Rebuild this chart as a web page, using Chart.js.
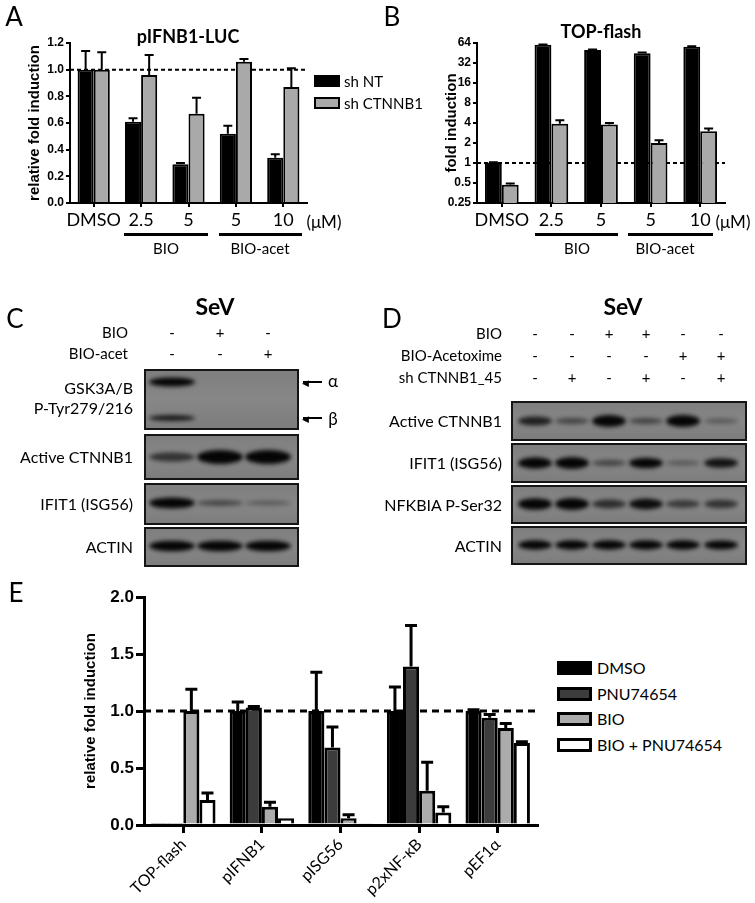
<!DOCTYPE html>
<html>
<head>
<meta charset="utf-8">
<script src="https://cdn.jsdelivr.net/npm/chart.js@4.4.1/dist/chart.umd.min.js"></script>
<style>
  body { margin: 0; background: #fff; }
  #fig { position: relative; width: 755px; height: 903px; overflow: hidden; font-family: Lato, "Open Sans", sans-serif; color: #000; }
  .t { position: absolute; white-space: nowrap; line-height: 1; }
  .box { position: absolute; box-sizing: border-box; border: 2px solid #000; }
  .bar { position: absolute; background: #000; }
  canvas { position: absolute; }
</style>
</head>
<body>
<div id="fig">
  <canvas id="chartA" width="330" height="265" style="left:0;top:0"></canvas>
  <canvas id="chartB" width="375" height="265" style="left:380px;top:0"></canvas>
  <canvas id="blots" width="755" height="290" style="left:0;top:290px"></canvas>
  <canvas id="chartE" width="545" height="343" style="left:0;top:560px"></canvas>
</div>
<script>
// ---- data: panel A (pIFNB1-LUC) ----
const doseLabels = ['DMSO', '2.5', '5', '5', '10'];
const ifnbNT = [1.0, 0.61, 0.29, 0.52, 0.34];
const ifnbNTErr = [1.14, 0.635, 0.30, 0.58, 0.365];
const ifnbSh = [1.0, 0.96, 0.67, 1.06, 0.87];
const ifnbShErr = [1.13, 1.11, 0.79, 1.08, 1.01];
const ifnbTicks = [0, 0.2, 0.4, 0.6, 0.8, 1.0, 1.2];

// ---- data: panel B (TOP-flash) ----
const topNT = [1.0, 60, 50, 45, 56];
const topNTErr = [1.03, 61, 51, 46, 57];
const topSh = [0.47, 3.9, 3.8, 2.0, 3.0];
const topShErr = [0.49, 4.4, 4.0, 2.2, 3.3];
const topTicks = [0.25, 0.5, 1, 2, 4, 8, 16, 32, 64];

// ---- data: panel E ----
const reporters = ['TOP-flash', 'pIFNB1', 'pISG56', 'p2xNF-κB', 'pEF1α'];
const eDMSO = [0.005, 1.0, 1.0, 1.0, 1.0];
const eDMSOErr = [null, 1.08, 1.34, 1.21, 1.01];
const ePNU = [0.005, 1.03, 0.68, 1.39, 0.94];
const ePNUErr = [null, 1.04, 0.86, 1.75, 0.97];
const eBIO = [1.0, 0.16, 0.06, 0.30, 0.85];
const eBIOErr = [1.19, 0.20, 0.09, 0.55, 0.89];
const eCombo = [0.22, 0.06, 0.015, 0.11, 0.72];
const eComboErr = [0.28, null, null, 0.16, 0.73];
const eTicks = [0, 0.5, 1.0, 1.5, 2.0];

// ---- blot band intensities (0..1 per lane) ----
const blotC = [
  { label: ['GSK3A/B', 'P-Tyr279/216'], top: 370, bottom: 429, bands: [
      { y: 382, h: 9, lanes: [1.0, 0.04, 0.04] },
      { y: 418, h: 7, lanes: [0.7, 0.04, 0.04] } ] },
  { label: ['Active CTNNB1'], top: 435, bottom: 479, bands: [{ y: 457, h: 14, lanes: [0.45, 1.0, 1.0] }] },
  { label: ['IFIT1 (ISG56)'], top: 484, bottom: 524, bands: [{ y: 503, h: 11, lanes: [1.0, 0.3, 0.15] }] },
  { label: ['ACTIN'], top: 528, bottom: 566, bands: [{ y: 546, h: 11, lanes: [0.95, 0.95, 0.95] }] }
];
const blotD = [
  { label: ['Active CTNNB1'], top: 402, bottom: 440, bands: [{ y: 421, h: 12, lanes: [0.6, 0.3, 1.0, 0.3, 1.0, 0.15] }] },
  { label: ['IFIT1 (ISG56)'], top: 444, bottom: 482, bands: [{ y: 463, h: 12, lanes: [0.95, 1.0, 0.3, 0.8, 0.15, 0.7] }] },
  { label: ['NFKBIA P-Ser32'], top: 486, bottom: 523, bands: [{ y: 504, h: 13, lanes: [0.85, 0.9, 0.5, 0.75, 0.4, 0.45] }] },
  { label: ['ACTIN'], top: 527, bottom: 564, bands: [{ y: 545, h: 10, lanes: [0.9, 0.9, 0.9, 0.9, 0.9, 0.85] }] }
];

const fig = document.getElementById('fig');
const tickFont = 'Liberation Sans';

function text(s, x, y, size, opts = {}) {
  const d = document.createElement('div');
  d.className = 't';
  d.textContent = s;
  d.style.left = x + 'px';
  d.style.top = y + 'px';
  d.style.fontSize = size + 'px';
  if (opts.bold) d.style.fontWeight = 'bold';
  const tx = opts.align === 'right' ? '-100%' : opts.align === 'left' ? '0' : '-50%';
  d.style.transform = `translate(${tx}, -50%)`;
  fig.appendChild(d);
}
function hline(x1, x2, y, w) {
  const d = document.createElement('div');
  d.className = 'bar';
  d.style.left = x1 + 'px'; d.style.top = (y - w / 2) + 'px';
  d.style.width = (x2 - x1) + 'px'; d.style.height = w + 'px';
  fig.appendChild(d);
}
function swatch(x, y, w, h, fill, bw) {
  const d = document.createElement('div');
  d.className = 'box';
  Object.assign(d.style, { left: x + 'px', top: (y - h / 2) + 'px', width: w + 'px', height: h + 'px', background: fill, borderWidth: bw + 'px' });
  fig.appendChild(d);
}

// error bars (upper whisker only), drawn with the chart's own scales
function errorBars(lineWidth, capW) {
  return {
    id: 'errorBars',
    afterDatasetsDraw(chart) {
      const ctx = chart.ctx, yScale = chart.scales.y;
      ctx.save();
      ctx.strokeStyle = '#000';
      ctx.lineWidth = lineWidth;
      chart.data.datasets.forEach((ds, i) => {
        if (!ds.errHi) return;
        chart.getDatasetMeta(i).data.forEach((bar, j) => {
          const e = ds.errHi[j];
          if (e == null) return;
          const ye = yScale.getPixelForValue(e);
          ctx.beginPath();
          ctx.moveTo(bar.x, bar.y);
          ctx.lineTo(bar.x, ye);
          ctx.moveTo(bar.x - capW / 2, ye);
          ctx.lineTo(bar.x + capW / 2, ye);
          ctx.stroke();
        });
      });
      ctx.restore();
    }
  };
}
// dashed reference line at y = 1
function refLine(lineWidth, dash) {
  return {
    id: 'refLine',
    beforeDatasetsDraw(chart) {
      const ctx = chart.ctx, a = chart.chartArea;
      const y = chart.scales.y.getPixelForValue(1);
      ctx.save();
      ctx.strokeStyle = '#000';
      ctx.lineWidth = lineWidth;
      ctx.setLineDash(dash);
      ctx.beginPath();
      ctx.moveTo(a.left, y);
      ctx.lineTo(a.right, y);
      ctx.stroke();
      ctx.restore();
    }
  };
}

function axisX(tickLen, lw, height, font, rotation) {
  return {
    offset: true,
    grid: { offset: false, drawOnChartArea: false, drawTicks: true, tickLength: tickLen, color: '#000', lineWidth: lw },
    border: { display: true, color: '#000', width: lw },
    ticks: { font: font, color: '#000', padding: 2, autoSkip: false, minRotation: rotation, maxRotation: rotation },
    afterFit: s => { s.height = height; }
  };
}
function axisY(tickVals, tickLen, lw, width, tickSize, title, titlePad, fmt) {
  return {
    afterBuildTicks: s => { s.ticks = tickVals.map(v => ({ value: v })); },
    grid: { drawOnChartArea: false, drawTicks: true, tickLength: tickLen, color: '#000', lineWidth: lw },
    border: { display: true, color: '#000', width: lw },
    ticks: { font: { family: tickFont, weight: 'bold', size: tickSize }, color: '#000', padding: 2, callback: fmt },
    title: { display: true, text: title, color: '#000', font: { family: tickFont, weight: 'bold', size: 15 }, padding: { top: titlePad, bottom: 0 } },
    afterFit: s => { s.width = width; }
  };
}
const common = {
  responsive: false, animation: false, events: [],
  plugins: { legend: { display: false }, tooltip: { enabled: false } }
};

// ---- Panel A ----
new Chart(document.getElementById('chartA'), {
  type: 'bar',
  data: {
    labels: doseLabels,
    datasets: [
      { label: 'sh NT', data: ifnbNT, errHi: ifnbNTErr, backgroundColor: '#000', borderColor: '#000', borderWidth: 2 },
      { label: 'sh CTNNB1', data: ifnbSh, errHi: ifnbShErr, backgroundColor: '#a9a9a9', borderColor: '#000', borderWidth: 2 }
    ]
  },
  options: Object.assign({}, common, {
    layout: { padding: { top: 43, right: 23, left: 0, bottom: 0 } },
    datasets: { bar: { categoryPercentage: 0.68, barPercentage: 1.0 } },
    scales: {
      x: axisX(4, 2, 62, { family: 'Lato', size: 18 }, 0),
      y: Object.assign(axisY(ifnbTicks, 4, 2, 70, 12, 'relative fold induction', 26, v => v.toFixed(1)), { min: 0, max: 1.2 })
    }
  }),
  plugins: [refLine(2, [4, 3]), errorBars(2, 9)]
});

// ---- Panel B ----
new Chart(document.getElementById('chartB'), {
  type: 'bar',
  data: {
    labels: doseLabels,
    datasets: [
      { label: 'sh NT', data: topNT, errHi: topNTErr, backgroundColor: '#000', borderColor: '#000', borderWidth: 2 },
      { label: 'sh CTNNB1', data: topSh, errHi: topShErr, backgroundColor: '#a9a9a9', borderColor: '#000', borderWidth: 2 }
    ]
  },
  options: Object.assign({}, common, {
    layout: { padding: { top: 43, right: 30, left: 0, bottom: 0 } },
    datasets: { bar: { categoryPercentage: 0.68, barPercentage: 1.0 } },
    scales: {
      x: axisX(4, 2, 62, { family: 'Lato', size: 18 }, 0),
      y: Object.assign(axisY(topTicks, 4, 2, 97, 12, 'fold induction', 63, v => String(v)), { type: 'logarithmic', min: 0.25, max: 64 })
    }
  }),
  plugins: [refLine(2, [4, 3]), errorBars(2, 9)]
});

// ---- Panel E ----
new Chart(document.getElementById('chartE'), {
  type: 'bar',
  data: {
    labels: reporters,
    datasets: [
      { label: 'DMSO', data: eDMSO, errHi: eDMSOErr, backgroundColor: '#000', borderColor: '#000', borderWidth: 3 },
      { label: 'PNU74654', data: ePNU, errHi: ePNUErr, backgroundColor: '#3c3c3c', borderColor: '#000', borderWidth: 3 },
      { label: 'BIO', data: eBIO, errHi: eBIOErr, backgroundColor: '#ababab', borderColor: '#000', borderWidth: 3 },
      { label: 'BIO + PNU74654', data: eCombo, errHi: eComboErr, backgroundColor: '#fff', borderColor: '#000', borderWidth: 3 }
    ]
  },
  options: Object.assign({}, common, {
    layout: { padding: { top: 37, right: 8, left: 0, bottom: 0 } },
    datasets: { bar: { categoryPercentage: 0.82, barPercentage: 1.0 } },
    scales: {
      x: axisX(8, 3, 78, { family: 'Lato', size: 16 }, 45),
      y: Object.assign(axisY(eTicks, 8, 3, 144, 17, 'relative fold induction', 82, v => v.toFixed(1)), { min: 0, max: 2.0 })
    }
  }),
  plugins: [refLine(3, [7, 5]), errorBars(3, 12)]
});

// ---- western blots (panels C, D) ----
const bctx = document.getElementById('blots').getContext('2d');
const OY = 290;
function drawBlot(rows, x1, x2, lanes, laneW, labelRight) {
  rows.forEach(r => {
    const t = r.top - OY, b = r.bottom - OY;
    const g = bctx.createLinearGradient(0, t, 0, b);
    g.addColorStop(0, '#7e7e7e'); g.addColorStop(0.5, '#878787'); g.addColorStop(1, '#7c7c7c');
    bctx.fillStyle = g;
    bctx.fillRect(x1, t, x2 - x1, b - t);
    bctx.save();
    bctx.beginPath(); bctx.rect(x1, t, x2 - x1, b - t); bctx.clip();
    bctx.filter = 'blur(2px)';
    r.bands.forEach(band => {
      band.lanes.forEach((v, i) => {
        if (v < 0.05) return;
        bctx.fillStyle = `rgba(5,5,5,${Math.min(1, 0.2 + v)})`;
        bctx.beginPath();
        bctx.ellipse(lanes[i], band.y - OY, laneW / 2, band.h * (0.35 + 0.65 * v) / 2, 0, 0, Math.PI * 2);
        bctx.fill();
      });
    });
    bctx.restore();
    bctx.strokeStyle = '#151515';
    bctx.lineWidth = 2;
    bctx.strokeRect(x1, t, x2 - x1, b - t);
    const mid = (r.top + r.bottom) / 2;
    if (r.label.length === 2) {
      text(r.label[0], labelRight, 388, 16, { align: 'right' });
      text(r.label[1], labelRight, 408, 16, { align: 'right' });
    } else {
      text(r.label[0], labelRight, mid, 16, { align: 'right' });
    }
  });
}
const lanesC = [172, 220, 268];
const lanesD = [535, 572, 609, 646, 683, 721];
drawBlot(blotC, 145, 298, lanesC, 46, 133);
drawBlot(blotD, 512, 746, lanesD, 34, 502);

// ---- annotations ----
// panel letters
text('A', 14, 16, 26); text('B', 392, 16, 26); text('C', 15, 318, 26); text('D', 392, 318, 26); text('E', 16, 592, 26);
// titles
text('pIFNB1-LUC', 188, 36, 18, { bold: true });
text('TOP-flash', 601, 31, 18, { bold: true });
// dose groups A
text('(μM)', 324, 221, 17);
hline(124, 208, 234, 3); hline(219, 302, 234, 3);
text('BIO', 166, 248, 15); text('BIO-acet', 260, 248, 15);
// dose groups B
text('(μM)', 733, 221, 17);
hline(535, 618, 234, 3); hline(628, 713, 234, 3);
text('BIO', 577, 248, 15); text('BIO-acet', 665, 248, 15);
// legend A
swatch(314, 81, 26, 12, '#000', 2); text('sh NT', 344, 81, 15, { align: 'left' });
swatch(314, 103, 26, 12, '#a9a9a9', 2); text('sh CTNNB1', 344, 103, 15, { align: 'left' });
// panel C header
text('SeV', 215, 306, 23, { bold: true });
text('BIO', 128, 332, 15, { align: 'right' });
text('BIO-acet', 128, 353, 15, { align: 'right' });
['-', '+', '-'].forEach((s, i) => text(s, lanesC[i], 332, 15));
['-', '-', '+'].forEach((s, i) => text(s, lanesC[i], 353, 15));
hline(303, 322, 382, 2); text('◀', 305, 382, 9); text('α', 333, 380, 17);
hline(303, 322, 418, 2); text('◀', 305, 418, 9); text('β', 333, 418, 17);
// panel D header
text('SeV', 623, 306, 23, { bold: true });
text('BIO', 502, 333, 15, { align: 'right' });
text('BIO-Acetoxime', 502, 355, 15, { align: 'right' });
text('sh CTNNB1_45', 502, 377, 15, { align: 'right' });
['-', '-', '+', '+', '-', '-'].forEach((s, i) => text(s, lanesD[i], 333, 15));
['-', '-', '-', '-', '+', '+'].forEach((s, i) => text(s, lanesD[i], 355, 15));
['-', '+', '-', '+', '-', '+'].forEach((s, i) => text(s, lanesD[i], 377, 15));
// legend E
[['DMSO', '#000'], ['PNU74654', '#3c3c3c'], ['BIO', '#ababab'], ['BIO + PNU74654', '#fff']].forEach((it, i) => {
  const y = 668 + i * 25.7;
  swatch(557, y, 35, 14, it[1], 3);
  text(it[0], 597, y, 16, { align: 'left' });
});
</script>
</body>
</html>
